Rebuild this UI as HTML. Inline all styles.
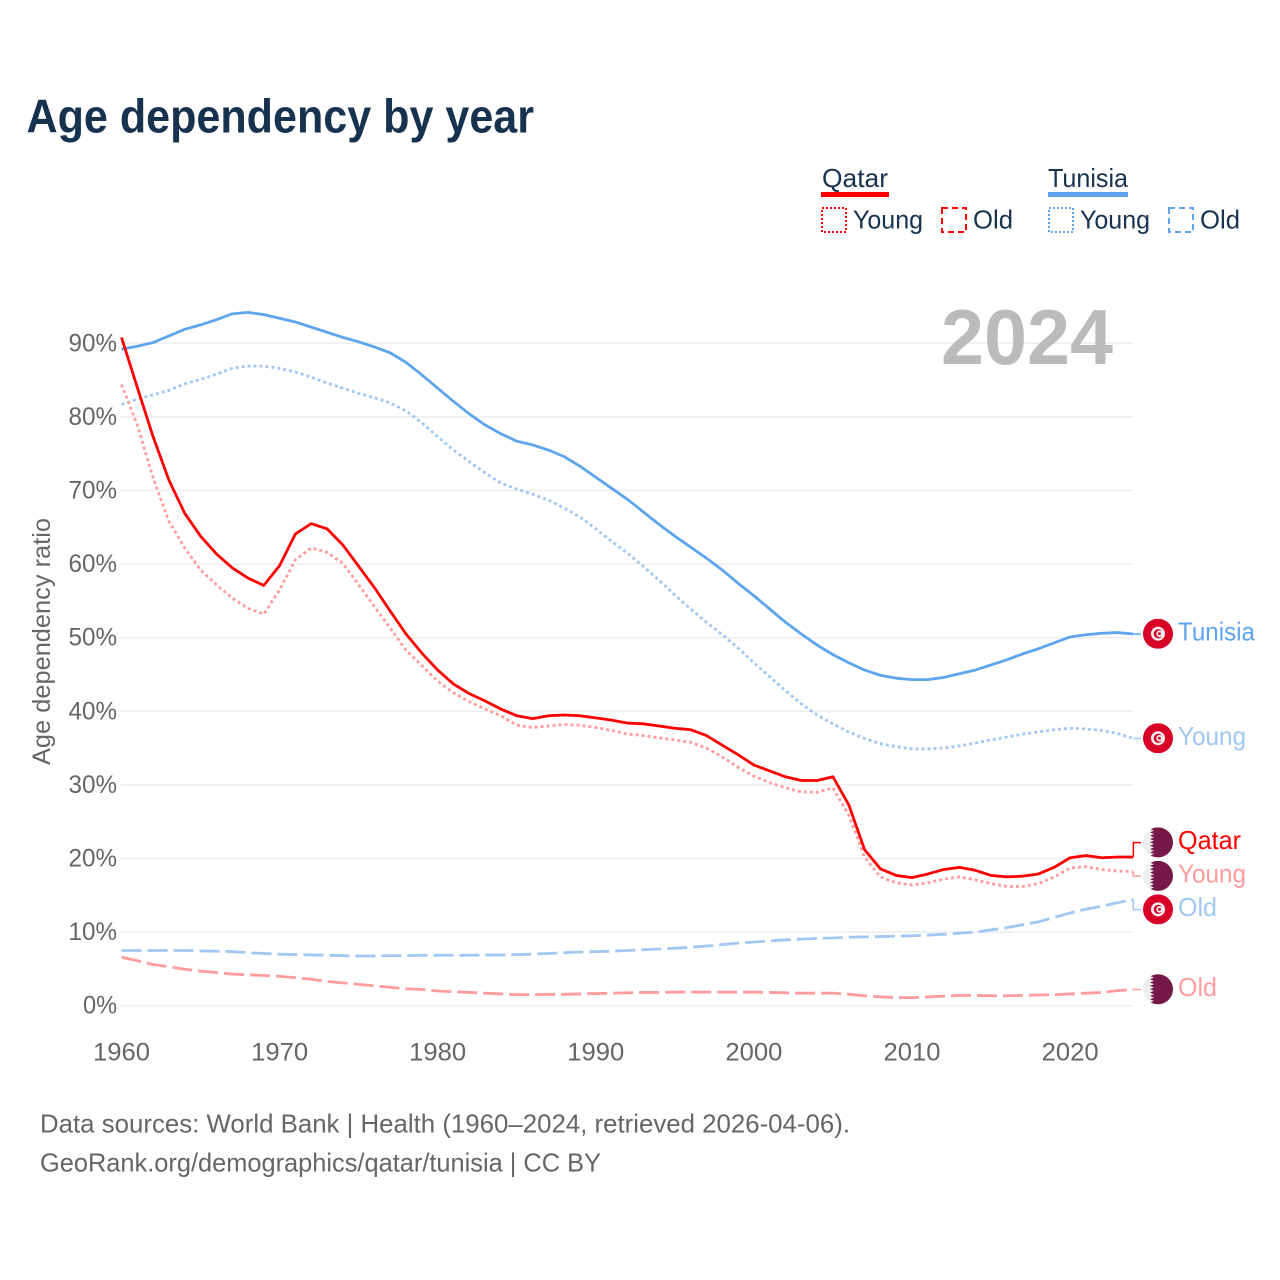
<!DOCTYPE html>
<html lang="en">
<head>
<meta charset="utf-8">
<title>Age dependency by year</title>
<style>
html,body{margin:0;padding:0;background:#fff;width:1280px;height:1280px;overflow:hidden}
svg{display:block;font-family:"Liberation Sans",sans-serif}
</style>
</head>
<body>
<svg id="chart" xmlns="http://www.w3.org/2000/svg" width="1280" height="1280" viewBox="0 0 1280 1280">
  <rect width="1280" height="1280" fill="#fff"/>
  <text x="26.5" y="132.5" font-size="47" font-weight="700" fill="#17324f" textLength="507.5" lengthAdjust="spacingAndGlyphs">Age dependency by year</text>

  <g font-size="26" fill="#17324f">
    <text x="822" y="187" textLength="66" lengthAdjust="spacingAndGlyphs">Qatar</text>
    <rect x="821" y="192" width="68" height="5" fill="#ff0000"/>
    <rect x="822" y="208" width="24" height="24" fill="none" stroke="#ff0000" stroke-width="2" stroke-dasharray="2 2"/>
    <text x="853" y="228.5" textLength="70" lengthAdjust="spacingAndGlyphs">Young</text>
    <rect x="942" y="208" width="24" height="24" fill="none" stroke="#ff0000" stroke-width="2" stroke-dasharray="6 4"/>
    <text x="973" y="228.5" textLength="40" lengthAdjust="spacingAndGlyphs">Old</text>

    <text x="1048" y="187" textLength="80" lengthAdjust="spacingAndGlyphs">Tunisia</text>
    <rect x="1048" y="192" width="80" height="5" fill="#5ea5ee"/>
    <rect x="1049" y="208" width="24" height="24" fill="none" stroke="#5ea5ee" stroke-width="2" stroke-dasharray="2 2"/>
    <text x="1080" y="228.5" textLength="70" lengthAdjust="spacingAndGlyphs">Young</text>
    <rect x="1169" y="208" width="24" height="24" fill="none" stroke="#5ea5ee" stroke-width="2" stroke-dasharray="6 4"/>
    <text x="1200" y="228.5" textLength="40" lengthAdjust="spacingAndGlyphs">Old</text>
  </g>

  <g id="grid"></g>
  <text x="941" y="364" font-size="78" font-weight="700" fill="#bbbbbb" textLength="172" lengthAdjust="spacingAndGlyphs">2024</text>
  <g id="y-ticks"></g>
  <g id="x-ticks"></g>
  <text transform="translate(50,641.5) rotate(-90)" text-anchor="middle" font-size="25" fill="#666666" textLength="247" lengthAdjust="spacingAndGlyphs">Age dependency ratio</text>
  <g id="series"></g>
  <g id="end-labels"></g>

  <g font-size="26" fill="#666666">
    <text x="40" y="1132.5" textLength="810" lengthAdjust="spacingAndGlyphs">Data sources: World Bank | Health (1960–2024, retrieved 2026-04-06).</text>
    <text x="40" y="1171.5" textLength="561" lengthAdjust="spacingAndGlyphs">GeoRank.org/demographics/qatar/tunisia | CC BY</text>
  </g>
</svg>
<script>
const years = [1960,1961,1962,1963,1964,1965,1966,1967,1968,1969,1970,1971,1972,1973,1974,1975,1976,1977,1978,1979,1980,1981,1982,1983,1984,1985,1986,1987,1988,1989,1990,1991,1992,1993,1994,1995,1996,1997,1998,1999,2000,2001,2002,2003,2004,2005,2006,2007,2008,2009,2010,2011,2012,2013,2014,2015,2016,2017,2018,2019,2020,2021,2022,2023,2024];
const tunisiaTotal = [89.2,89.6,90.1,91,91.9,92.5,93.2,94,94.2,93.9,93.4,92.9,92.2,91.5,90.8,90.2,89.5,88.7,87.4,85.7,83.9,82.1,80.4,78.9,77.7,76.7,76.2,75.5,74.6,73.3,71.8,70.3,68.8,67.1,65.4,63.8,62.3,60.8,59.2,57.4,55.7,53.9,52.1,50.5,49,47.7,46.6,45.6,44.9,44.5,44.3,44.3,44.6,45.1,45.6,46.3,47,47.8,48.5,49.3,50.1,50.4,50.6,50.7,50.5];
const tunisiaYoung = [81.7,82.4,83,83.6,84.5,85.1,85.8,86.6,86.9,86.9,86.6,86.1,85.4,84.6,83.9,83.2,82.6,81.9,80.8,79.2,77.3,75.5,73.9,72.4,71,70.2,69.5,68.7,67.6,66.4,64.8,63.1,61.5,59.7,57.8,55.8,53.9,52.1,50.4,48.6,46.6,44.7,42.8,41,39.5,38.3,37.2,36.3,35.6,35.2,34.9,34.9,35,35.3,35.7,36.1,36.5,36.9,37.2,37.5,37.7,37.6,37.4,37,36.3];
const tunisiaOld = [7.5,7.5,7.5,7.5,7.5,7.45,7.4,7.35,7.2,7.1,7,6.95,6.9,6.85,6.8,6.75,6.75,6.8,6.8,6.85,6.85,6.85,6.85,6.9,6.9,6.95,7,7.1,7.2,7.3,7.35,7.4,7.5,7.6,7.7,7.8,7.95,8.1,8.3,8.5,8.65,8.8,8.95,9.05,9.15,9.2,9.3,9.35,9.4,9.45,9.5,9.6,9.7,9.85,10,10.3,10.6,11,11.4,12,12.6,13.1,13.5,14,14.4];
const qatarTotal = [90.8,84,77.3,71.4,66.9,63.8,61.4,59.5,58.1,57.1,59.8,64.1,65.5,64.8,62.6,59.7,56.8,53.6,50.5,47.9,45.6,43.7,42.4,41.4,40.3,39.4,39,39.4,39.5,39.4,39.1,38.8,38.4,38.3,38,37.7,37.5,36.7,35.4,34.1,32.7,31.9,31.1,30.6,30.6,31.1,27.3,21.2,18.6,17.7,17.4,17.9,18.5,18.8,18.4,17.7,17.5,17.6,17.9,18.8,20.1,20.4,20.1,20.2,20.2];
const qatarYoung = [84.4,78.9,71.7,65.8,62.2,59.2,57.2,55.4,54,53.2,56.5,60.6,62.2,61.6,60.1,57.2,54.2,51.3,48.3,46.2,44.1,42.5,41.3,40.3,39.4,38.1,37.8,38,38.2,38.1,37.8,37.4,36.9,36.7,36.4,36.1,35.8,35,33.8,32.4,31.2,30.3,29.6,29.05,29,29.6,25.9,20.2,17.5,16.7,16.4,16.7,17.2,17.5,17.1,16.6,16.2,16.2,16.6,17.5,18.7,18.9,18.5,18.3,18.2];
const qatarOld = [6.6,6.1,5.6,5.3,4.95,4.7,4.5,4.3,4.2,4.1,4,3.8,3.6,3.3,3.1,2.9,2.7,2.5,2.3,2.2,2,1.9,1.8,1.7,1.6,1.5,1.5,1.55,1.55,1.6,1.65,1.7,1.75,1.8,1.8,1.85,1.85,1.85,1.85,1.85,1.85,1.8,1.75,1.7,1.7,1.7,1.55,1.35,1.2,1.1,1.1,1.2,1.3,1.4,1.4,1.35,1.35,1.4,1.45,1.5,1.6,1.7,1.8,2.05,2.2];
const yTickValues = [0,10,20,30,40,50,60,70,80,90];
const yTickLabels = ["0%","10%","20%","30%","40%","50%","60%","70%","80%","90%"];
const xTickValues = [1960,1970,1980,1990,2000,2010,2020];
const xTickLabels = ["1960","1970","1980","1990","2000","2010","2020"];

const NS = "http://www.w3.org/2000/svg";
const xScale = function (year) { return 121.5 + (year - 1960) * 15.81; };
const yScale = function (value) { return 1005.7 - value * 7.36; };
const linePath = function (values) {
  return values.map(function (v, i) {
    return (i ? "L" : "M") + xScale(years[i]).toFixed(2) + " " + yScale(v).toFixed(2);
  }).join("");
};
const make = function (tag, parent) {
  const el = document.createElementNS(NS, tag);
  parent.appendChild(el);
  return el;
};

const gridGroup = document.getElementById("grid");
const yTickGroup = document.getElementById("y-ticks");
yTickValues.forEach(function (v, i) {
  const line = make("line", gridGroup);
  
  
  line.setAttribute("x1", 121);
  line.setAttribute("x2", 1133);
  line.setAttribute("y1", yScale(v));
  line.setAttribute("y2", yScale(v));
  line.setAttribute("stroke", "#eeeeee");
  line.setAttribute("stroke-width", 1.6);
  const t = make("text", yTickGroup);
  
  
  t.textContent = yTickLabels[i];
  t.setAttribute("x", 117);
  t.setAttribute("y", yScale(v) + 8);
  t.setAttribute("text-anchor", "end");
  t.setAttribute("font-size", 25);
  t.setAttribute("fill", "#666666");
  t.setAttribute("textLength", yTickLabels[i].length * 14.5 + 5);
  t.setAttribute("lengthAdjust", "spacingAndGlyphs");
});

const xTickGroup = document.getElementById("x-ticks");
xTickValues.forEach(function (v, i) {
  const t = make("text", xTickGroup);
  
  
  t.textContent = xTickLabels[i];
  t.setAttribute("x", xScale(v));
  t.setAttribute("y", 1060.7);
  t.setAttribute("text-anchor", "middle");
  t.setAttribute("font-size", 25);
  t.setAttribute("fill", "#666666");
  t.setAttribute("textLength", 57);
  t.setAttribute("lengthAdjust", "spacingAndGlyphs");
});

const seriesList = [
  { id: "tunisia-old", values: tunisiaOld, color: "#a0c8f3", dash: "20 6", width: 2.8, label: "Old", flag: "tn", w: 39 },
  { id: "qatar-old", values: qatarOld, color: "#ff9c9c", dash: "20 6", width: 2.8, label: "Old", flag: "qa", w: 39 },
  { id: "tunisia-young", values: tunisiaYoung, color: "#a0c8f3", dash: "3 3", width: 2.8, label: "Young", flag: "tn", w: 68 },
  { id: "qatar-young", values: qatarYoung, color: "#ff9c9c", dash: "3 3", width: 2.8, label: "Young", flag: "qa", w: 68 },
  { id: "tunisia-total", values: tunisiaTotal, color: "#5ea5ee", dash: "", width: 2.8, label: "Tunisia", flag: "tn", w: 77 },
  { id: "qatar-total", values: qatarTotal, color: "#ff0000", dash: "", width: 2.8, label: "Qatar", flag: "qa", w: 63 }
];

const seriesGroup = document.getElementById("series");
seriesList.forEach(function (s) {
  const p = make("path", seriesGroup);
  
  
  p.setAttribute("d", linePath(s.values));
  p.setAttribute("fill", "none");
  p.setAttribute("stroke", s.color);
  p.setAttribute("stroke-width", s.width);
  p.setAttribute("stroke-linejoin", "round");
  if (s.dash) p.setAttribute("stroke-dasharray", s.dash);
});

/* Place end labels at their last value, spreading overlapping groups around their mean. */
const ROW = 33.5;
const placed = seriesList.map(function (s) {
  const y0 = yScale(s.values[s.values.length - 1]);
  return { s: s, y0: y0, y: y0 };
}).sort(function (a, b) { return a.y0 - b.y0; });
const clusters = [];
placed.forEach(function (item) {
  const c = clusters[clusters.length - 1];
  if (c && item.y0 - c[c.length - 1].y0 < ROW) { c.push(item); } else { clusters.push([item]); }
});
clusters.forEach(function (c) {
  const mean = c.reduce(function (a, b) { return a + b.y0; }, 0) / c.length;
  c.forEach(function (item, i) { item.y = mean + (i - (c.length - 1) / 2) * ROW; });
});

const labelGroup = document.getElementById("end-labels");
const defs = make("defs", labelGroup);

const drawFlag = function (parent, kind, cx, cy, idx) {
  const clip = make("clipPath", defs);
  clip.setAttribute("id", "flag-clip-" + idx);
  const cc = make("circle", clip);
  cc.setAttribute("cx", cx);
  cc.setAttribute("cy", cy);
  cc.setAttribute("r", 15);
  const g = make("g", parent);
  
  
  g.setAttribute("clip-path", "url(#flag-clip-" + idx + ")");
  const base = make("rect", g);
  base.setAttribute("x", cx - 15);
  base.setAttribute("y", cy - 15);
  base.setAttribute("width", 30);
  base.setAttribute("height", 30);
  if (kind === "tn") {
    base.setAttribute("fill", "#d80027");
    const disc = make("circle", g);
    disc.setAttribute("cx", cx);
    disc.setAttribute("cy", cy);
    disc.setAttribute("r", 7);
    disc.setAttribute("fill", "#f0f0f0");
    const red = make("circle", g);
    red.setAttribute("cx", cx + 0.3);
    red.setAttribute("cy", cy);
    red.setAttribute("r", 4.6);
    red.setAttribute("fill", "#d80027");
    const inner = make("circle", g);
    inner.setAttribute("cx", cx + 1.7);
    inner.setAttribute("cy", cy);
    inner.setAttribute("r", 3.4);
    inner.setAttribute("fill", "#f0f0f0");
    const star = make("circle", g);
    star.setAttribute("cx", cx + 1.4);
    star.setAttribute("cy", cy);
    star.setAttribute("r", 1.5);
    star.setAttribute("fill", "#d80027");
  } else {
    base.setAttribute("fill", "#eeeeee");
    let d = "M" + (cx + 16) + " " + (cy - 16) + "L" + (cx - 4) + " " + (cy - 16);
    const teeth = 9;
    const step = 30 / teeth;
    for (let i = 0; i < teeth; i++) {
      d += "L" + (cx - 8) + " " + (cy - 15 + (i + 0.5) * step);
      d += "L" + (cx - 4) + " " + (cy - 15 + (i + 1) * step);
    }
    d += "L" + (cx - 4) + " " + (cy + 16) + "L" + (cx + 16) + " " + (cy + 16) + "Z";
    const maroon = make("path", g);
    maroon.setAttribute("d", d);
    maroon.setAttribute("fill", "#751a46");
  }
};

placed.forEach(function (item, idx) {
  const s = item.s;
  const xEnd = xScale(years[years.length - 1]);
  const conn = make("path", labelGroup);
  
  
  conn.setAttribute("d", "M" + xEnd + " " + item.y0 + "V" + item.y + "H1141");
  conn.setAttribute("fill", "none");
  conn.setAttribute("stroke", s.color);
  conn.setAttribute("stroke-width", 1.5);
  drawFlag(labelGroup, s.flag, 1158, item.y - 0.3, idx);
  const t = make("text", labelGroup);
  
  
  t.textContent = s.label;
  t.setAttribute("x", 1178);
  t.setAttribute("y", item.y + 6.3);
  t.setAttribute("font-size", 26);
  t.setAttribute("fill", s.color);
  t.setAttribute("textLength", s.w);
  t.setAttribute("lengthAdjust", "spacingAndGlyphs");
});
</script>
</body>
</html>
